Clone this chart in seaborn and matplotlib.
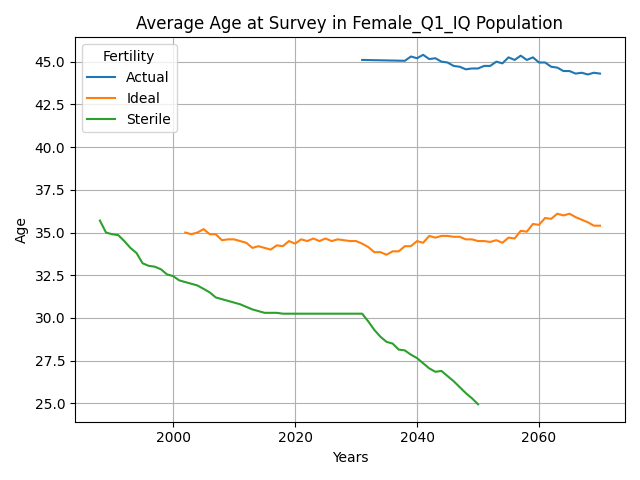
import pandas as pd
import matplotlib
matplotlib.use('Agg')
import matplotlib.pyplot as plt
import seaborn as sns

# Serie Sterile
sterile_years = list(range(1988, 2051))
sterile_age = [35.7, 35.0, 34.9, 34.85, 34.5, 34.1, 33.8, 33.2, 33.05, 33.0,
               32.85, 32.55, 32.45, 32.2, 32.1, 32.0, 31.9, 31.7, 31.5, 31.2,
               31.1, 31.0, 30.9, 30.8, 30.65, 30.5, 30.4, 30.3, 30.3, 30.3,
               30.25, 30.25, 30.25, 30.25, 30.25, 30.25, 30.25, 30.25, 30.25, 30.25,
               30.25, 30.25, 30.25, 30.25, 29.8, 29.3, 28.9, 28.6, 28.5, 28.15,
               28.1, 27.85, 27.65, 27.35, 27.05, 26.85, 26.9, 26.6, 26.3, 25.95,
               25.6, 25.3, 24.95]

# Serie Ideal
ideal_years = list(range(2002, 2071))
ideal_age = [35.0, 34.9, 35.0, 35.2, 34.9, 34.9, 34.55, 34.6, 34.6, 34.5,
             34.4, 34.1, 34.2, 34.1, 34.0, 34.25, 34.2, 34.5, 34.35, 34.6,
             34.5, 34.65, 34.5, 34.65, 34.5, 34.6, 34.55, 34.5, 34.5, 34.35,
             34.15, 33.85, 33.85, 33.7, 33.9, 33.9, 34.2, 34.2, 34.5, 34.4,
             34.8, 34.7, 34.8, 34.8, 34.75, 34.75, 34.6, 34.6, 34.5, 34.5,
             34.45, 34.55, 34.4, 34.7, 34.65, 35.1, 35.05, 35.5, 35.45, 35.85,
             35.8, 36.1, 36.0, 36.1, 35.9, 35.75, 35.6, 35.4, 35.4]

# Serie Actual
actual_years = [2031] + list(range(2038, 2071))
actual_age = [45.1, 45.05, 45.3, 45.2, 45.4, 45.15, 45.2, 45.0, 44.95, 44.75,
              44.7, 44.55, 44.6, 44.6, 44.75, 44.75, 45.0, 44.9, 45.25, 45.1,
              45.35, 45.1, 45.25, 44.95, 44.95, 44.7, 44.65, 44.45, 44.45, 44.3,
              44.35, 44.25, 44.35, 44.3]

df = pd.concat([
    pd.DataFrame({'Years': actual_years, 'Age': actual_age, 'Fertility': 'Actual'}),
    pd.DataFrame({'Years': ideal_years, 'Age': ideal_age, 'Fertility': 'Ideal'}),
    pd.DataFrame({'Years': sterile_years, 'Age': sterile_age, 'Fertility': 'Sterile'}),
])

plt.figure(figsize=(6.4, 4.8))
ax = sns.lineplot(data=df, x='Years', y='Age', hue='Fertility')
ax.set_title('Average Age at Survey in Female_Q1_IQ Population')
ax.grid(True)
sns.move_legend(ax, 'upper left', title='Fertility')
plt.tight_layout()
plt.savefig('out.png', dpi=100)
